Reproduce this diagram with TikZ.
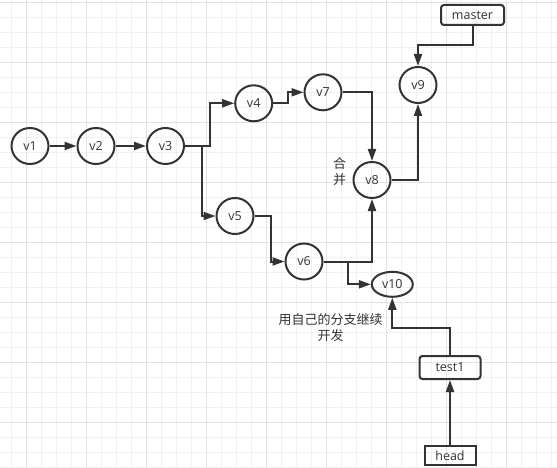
\documentclass[tikz,border=0pt]{standalone}
\usepackage{fontspec}
\setmainfont{Open Sans}
\newfontfamily\cjk{Noto Sans CJK SC}
\usetikzlibrary{arrows.meta,shapes.geometric}
\definecolor{ink}{HTML}{333333}
\definecolor{gridminor}{HTML}{F0F0F0}
\definecolor{gridmajor}{HTML}{E2E2E2}
\tikzset{
  ver/.style={ellipse,draw=ink,line width=2pt,text=ink,minimum width=37pt,minimum height=36pt,inner sep=0pt,font=\fontsize{12.5}{14}\selectfont},
  verwide/.style={ver,minimum width=41pt,minimum height=25pt},
  tagbox/.style={rectangle,draw=ink,line width=2pt,text=ink,inner sep=0pt,font=\fontsize{12.5}{14}\selectfont},
  arr/.style={draw=ink,line width=2pt,-{Triangle[length=12pt,width=8pt]}},
  note/.style={text=ink,align=center,inner sep=0pt,font=\cjk\fontsize{13}{16}\selectfont},
}
\begin{document}
\begin{tikzpicture}[x=1pt,y=-1pt]
\useasboundingbox (0,0) rectangle (557,468);
\fill[white] (0,0) rectangle (557,468);
% grid
\foreach \i in {0,...,36} {
  \pgfmathsetmacro{\xx}{11.7+15*\i}
  \draw[gridminor,line width=1pt] (\xx,0) -- (\xx,468);
}
\foreach \j in {0,...,31} {
  \pgfmathsetmacro{\yy}{2.3+15*\j}
  \draw[gridminor,line width=1pt] (0,\yy) -- (557,\yy);
}
\foreach \i in {0,...,9} {
  \pgfmathsetmacro{\xx}{26.7+60*\i}
  \draw[gridmajor,line width=1pt] (\xx,0) -- (\xx,468);
}
\foreach \j in {0,...,7} {
  \pgfmathsetmacro{\yy}{2.3+60*\j}
  \draw[gridmajor,line width=1pt] (0,\yy) -- (557,\yy);
}
% nodes
\node[ver] (v1) at (30,146) {v1};
\node[ver] (v2) at (96,146) {v2};
\node[ver] (v3) at (165.5,146) {v3};
\node[ver] (v4) at (253.7,103.3) {v4};
\node[ver] (v5) at (235,216) {v5};
\node[ver] (v6) at (304,261.5) {v6};
\node[ver] (v7) at (323,92.3) {v7};
\node[ver] (v8) at (372,180) {v8};
\node[ver] (v9) at (418,85) {v9};
\node[verwide] (v10) at (392.3,284.3) {v10};
\node[tagbox,rounded corners=3pt,minimum width=63pt,minimum height=20pt] (master) at (472.5,15) {master};
\node[tagbox,rounded corners=3pt,minimum width=61pt,minimum height=23pt] (test1) at (450,367.5) {test1};
\node[tagbox,minimum width=51pt,minimum height=19pt] (head) at (450,455.5) {head};
% labels
\node[note] (merge) at (339.5,172) {合\\并};
\node[note] (devnote) at (330.5,328) {用自己的分支继续\\开发};
% edges
\draw[arr] (v1) -- (v2);
\draw[arr] (v2) -- (v3);
\draw[arr] (v3.east) -- ++(25,0) |- (v4.west);
\draw[arr] (v3.east) -- ++(17,0) |- (v5.west);
\draw[arr] (v4.east) -- ++(15,0) |- (v7.west);
\draw[arr] (v5.east) -- ++(16,0) |- (v6.west);
\draw[arr] (v7.east) -| (v8.north);
\draw[arr] (v6.east) -| (v8.south);
\draw[arr] (v6.east) -- ++(24,0) |- (v10.west);
\draw[arr] (v8.east) -| (v9.south);
\draw[arr] (master.south) -- ++(0,19) -| (v9.north);
\draw[arr] (test1.north) -- ++(0,-27) -| (v10.south);
\draw[arr] (head) -- (test1);
\end{tikzpicture}
\end{document}
